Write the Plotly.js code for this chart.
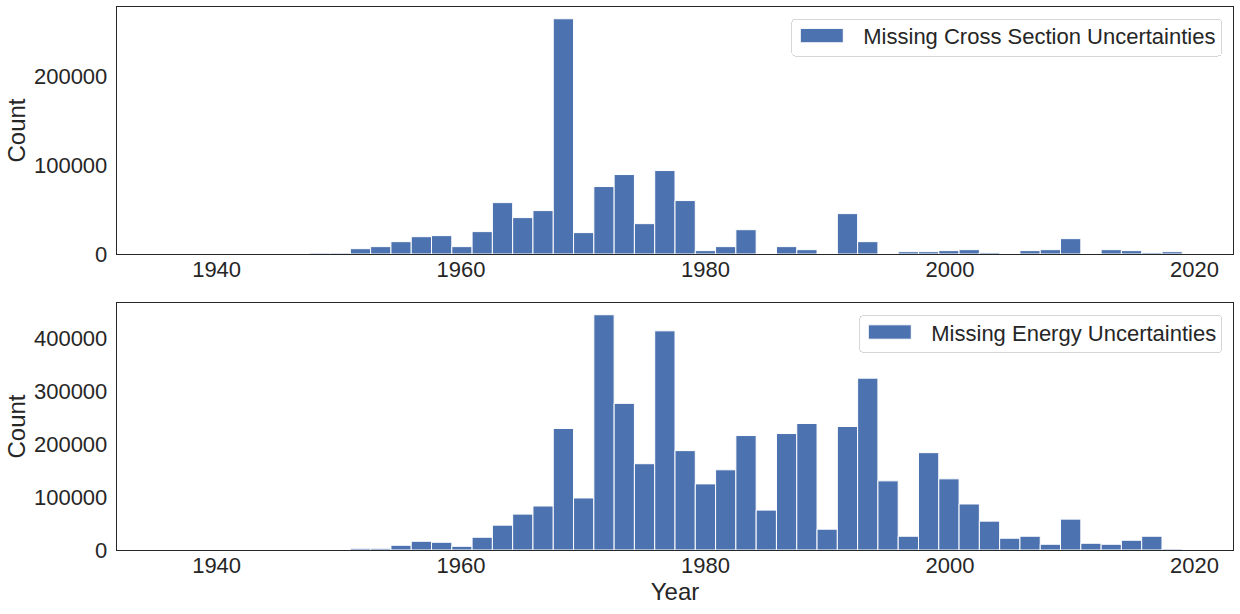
<!DOCTYPE html>
<html><head><meta charset="utf-8">
<script src="https://cdn.plot.ly/plotly-3.0.1.min.js"></script>
<style>html,body{margin:0;padding:0;background:#fff;}#chart{width:1240px;height:614px;}</style>
</head><body><div id="chart"></div>
<script>
// 50 histogram bins: left edge of first bin and bin width (years)
const binStart = 1936;
const binWidth = 1.66;
const binCount = 50;

const crossSectionCounts = [0,0,0,0,0,0,0,
  1100,1100,6000,8300,13900,19500,20700,8300,25200,57900,41000,48900,265000,24100,
  76000,89500,34200,94000,60200,3800,8300,27400,0,8300,4900,0,45500,13900,0,
  2600,2600,3800,4900,1500,0,3800,4900,17300,0,4900,3800,1500,2600];

const energyCounts = [0,0,0,0,0,0,0,0,0,
  3200,3200,8900,16500,14600,7000,24100,46900,67800,83100,229500,98300,
  444400,277000,163000,414000,187700,124900,151500,216200,75400,220000,239000,39300,233300,324600,130600,
  26000,183900,134400,86900,54500,22200,26000,10800,58300,12700,10800,18400,26000,1900];

const xTicks = [1940,1960,1980,2000,2020];
const yTicksTop = [0,100000,200000];
const yTicksBottom = [0,100000,200000,300000,400000];
const seriesNames = ['Missing Cross Section Uncertainties','Missing Energy Uncertainties'];

const centers = Array.from({length: binCount}, (_, i) => binStart + binWidth * (i + 0.5));
const binEnd = binStart + binWidth * binCount;
const span = binEnd - binStart;
const xRange = [binStart - 0.05 * span, binEnd + 0.05 * span];

const barColor = '#4C72B0';
const textColor = '#262626';

function barTrace(counts, name, xa, ya, leg) {
  return {
    type: 'bar', x: centers, y: counts, width: binWidth, name: name,
    xaxis: xa, yaxis: ya, legend: leg, showlegend: true,
    marker: {color: barColor, line: {color: '#ffffff', width: 1}},
    hoverinfo: 'x+y'
  };
}

const axisCommon = {
  showline: true, mirror: true, linecolor: textColor, linewidth: 1.25,
  showgrid: false, zeroline: false, ticks: '', tickfont: {size: 22, color: textColor},
  automargin: false
};

const legendCommon = {
  xanchor: 'right', yanchor: 'top', bgcolor: '#ffffff',
  bordercolor: '#d6d6d6', borderwidth: 1, itemwidth: 54,
  font: {size: 22, color: textColor}
};

const layout = {
  width: 1240, height: 614,
  margin: {l: 117, r: 7, t: 7, b: 64},
  paper_bgcolor: '#ffffff', plot_bgcolor: '#ffffff',
  font: {family: 'Liberation Sans, Arial, sans-serif', color: textColor, size: 22},
  bargap: 0,
  xaxis: Object.assign({}, axisCommon, {domain: [0, 1], anchor: 'y', range: xRange, tickvals: xTicks, ticklabelstandoff: -5}),
  yaxis: Object.assign({}, axisCommon, {domain: [0.5451, 1], anchor: 'x',
    range: [0, Math.max(...crossSectionCounts) * 1.05], tickvals: yTicksTop, tickformat: 'd', ticklabelstandoff: 4,
    title: {text: 'Count', font: {size: 24, color: textColor}, standoff: 4}}),
  xaxis2: Object.assign({}, axisCommon, {domain: [0, 1], anchor: 'y2', range: xRange, tickvals: xTicks, ticklabelstandoff: -5,
    title: {text: 'Year', font: {size: 24, color: textColor}, standoff: 3}}),
  yaxis2: Object.assign({}, axisCommon, {domain: [0, 0.4549], anchor: 'x2',
    range: [0, Math.max(...energyCounts) * 1.05], tickvals: yTicksBottom, tickformat: 'd', ticklabelstandoff: 4,
    title: {text: 'Count', font: {size: 24, color: textColor}, standoff: 4}}),
  legend: Object.assign({}, legendCommon, {x: 0.9904, y: 0.9875}),
  legend2: Object.assign({}, legendCommon, {x: 0.9904, y: 0.4416})
};

Plotly.newPlot('chart', [
  barTrace(crossSectionCounts, seriesNames[0], 'x', 'y', 'legend'),
  barTrace(energyCounts, seriesNames[1], 'x2', 'y2', 'legend2')
], layout, {displayModeBar: false, staticPlot: true}).then(function (gd) {
  // y-axis titles a little closer to the tick labels
  gd.querySelectorAll('g.g-ytitle, g.g-y2title').forEach(function (g) {
    g.setAttribute('transform', 'translate(3,0)');
  });
  // matplotlib-style legend: rounded, tighter frame and wide rectangular patch
  gd.querySelectorAll('g.legend, g.legend2, g[class^="legend"]').forEach(function (lg) {
    const bg = lg.querySelector('rect.bg');
    if (!bg || bg.dataset.done) return;
    bg.dataset.done = '1';
    bg.setAttribute('rx', 4); bg.setAttribute('ry', 4);
    const x0 = parseFloat(bg.getAttribute('x')) || 0;
    const w0 = parseFloat(bg.getAttribute('width')) || 0;
    const y0 = parseFloat(bg.getAttribute('y')) || 0;
    const h0 = parseFloat(bg.getAttribute('height')) || 0;
    bg.setAttribute('x', x0 - 7);
    bg.setAttribute('width', w0 + 7);
    bg.setAttribute('y', y0 + 4.8);
    bg.setAttribute('height', Math.max(0, h0 - 6));
    const bgBox = bg.getBoundingClientRect();
    lg.querySelectorAll('.legendpoints path').forEach(function (p) {
      const pb = p.getBoundingClientRect();
      const cx = pb.left + pb.width / 2;
      const left = bgBox.left + 8.5 - cx;
      const right = left + 43;
      p.setAttribute('d', 'M' + left + ',7.2H' + right + 'V-7.2H' + left + 'Z');
    });
  });
});
</script>
</body></html>
